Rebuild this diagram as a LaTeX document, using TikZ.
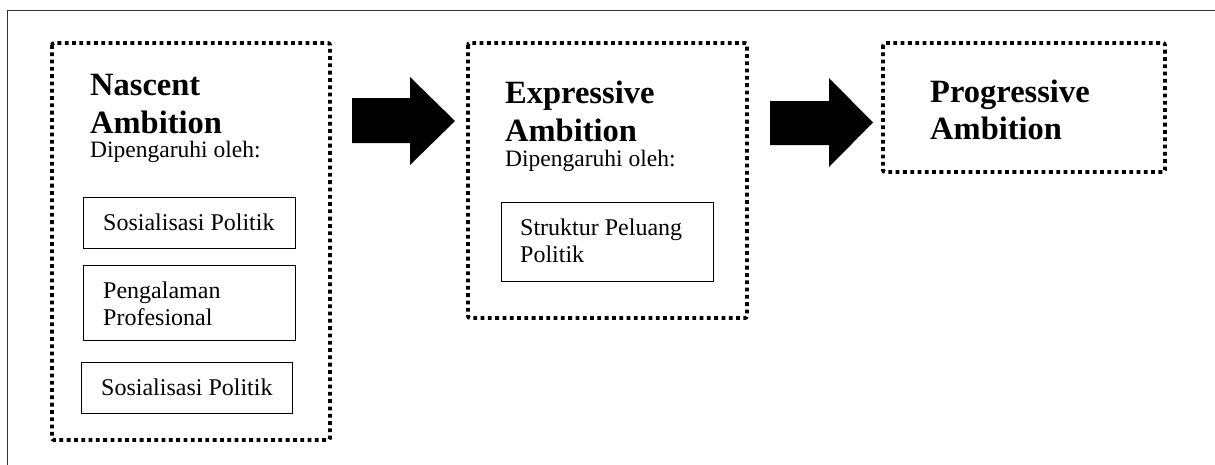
\documentclass[tikz,border=0pt]{standalone}
\usepackage{fontspec}
\setmainfont{Liberation Serif}
\begin{document}
\begin{tikzpicture}[x=1pt,y=-1pt,
  dotbox/.style={draw=black,line width=3.8pt,dash pattern=on 3.8pt off 3.5pt,rounded corners=2pt},
  factor/.style={draw=black,line width=0.8pt},
  ttl/.style={anchor=base west,inner sep=0pt,font=\fontsize{32.5}{36}\selectfont\bfseries},
  sub/.style={anchor=base west,inner sep=0pt,font=\fontsize{23.5}{27}\selectfont},
  ftxt/.style={anchor=base west,inner sep=0pt,font=\fontsize{24}{27}\selectfont},
  blockarrow/.style={fill=black}]
\useasboundingbox (0,0) rectangle (1215,464);
% outer frame
\draw[line width=1pt,black!80] (7,470) -- (7,10) -- (1220,10);
% stage boxes
\draw[dotbox] (52,43) rectangle (330,440);
\coordinate (nascent) at (191,241);
\draw[dotbox] (468,43) rectangle (747,318);
\coordinate (expressive) at (607,180);
\draw[dotbox] (883,43) rectangle (1165,172);
\coordinate (progressive) at (1024,107);
% nascent texts
\node[ttl] (n1) at (90,95) {Nascent};
\node[ttl] (n2) at (90,133) {Ambition};
\node[sub] (n3) at (90,157) {Dipengaruhi oleh:};
\draw[factor] (83,197) rectangle (295,248);
\node[ftxt] (f1) at (103,230) {Sosialisasi Politik};
\draw[factor] (83,265) rectangle (295,340);
\node[ftxt] (f2a) at (103,298) {Pengalaman};
\node[ftxt] (f2b) at (103,325) {Profesional};
\draw[factor] (81,362) rectangle (292,413);
\node[ftxt] (f3) at (101,395) {Sosialisasi Politik};
% expressive texts
\node[ttl] (e1) at (505,103) {Expressive};
\node[ttl] (e2) at (505,141) {Ambition};
\node[sub] (e3) at (505,166) {Dipengaruhi oleh:};
\draw[factor] (501,202) rectangle (713,281);
\node[ftxt] (g1a) at (520,235) {Struktur Peluang};
\node[ftxt] (g1b) at (520,262) {Politik};
% progressive texts
\node[ttl] (p1) at (930,102) {Progressive};
\node[ttl] (p2) at (930,139) {Ambition};
% block arrows
\fill[blockarrow] (352,98) -- (410,98) -- (410,77) -- (455,121) -- (410,165) -- (410,143) -- (352,143) -- cycle;
\fill[blockarrow] (770,101) -- (829,101) -- (829,78) -- (873,122.5) -- (829,167) -- (829,145) -- (770,145) -- cycle;
\end{tikzpicture}
\end{document}
